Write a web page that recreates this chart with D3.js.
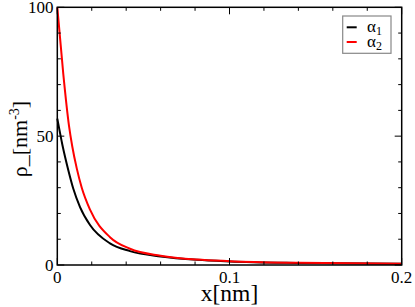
<!DOCTYPE html>
<html>
<head>
<meta charset="utf-8">
<script src="https://cdn.jsdelivr.net/npm/d3@7"></script>
<style>
  body { margin: 0; background: #fff; }
  svg text { font-family: "Liberation Serif", "Times New Roman", Times, "DejaVu Serif", serif; }
</style>
</head>
<body>
<div id="chart"></div>
<script>
// values
var xs1    = [0, 0.003, 0.0064, 0.0093, 0.0132, 0.019, 0.0306, 0.0422, 0.06, 0.081, 0.1, 0.14, 0.2];
var alpha1 = [56.8, 46.5, 36.8, 29.6, 22.5, 15.5, 8.4, 5.4, 3.3, 2.0, 1.4, 0.8, 0.45];
var xs2    = [0, 0.0035, 0.0068, 0.0087, 0.0113, 0.0142, 0.019, 0.0306, 0.0422, 0.06, 0.081, 0.1, 0.14, 0.2];
var alpha2 = [100, 74, 54, 46, 37.5, 30, 21.5, 10.8, 6.3, 3.6, 2.1, 1.5, 0.85, 0.45];
var seriesNames = ["α1", "α2"];
var xTicks = [0, 0.1, 0.2];
var yTicks = [0, 50, 100];

var width = 415, height = 307;
var marginleft = 57.3, marginright = 13.3, margintop = 7.3, marginbottom = 42;

var svg = d3.select("#chart").append("svg")
    .attr("width", width)
    .attr("height", height)
    .attr("font-family", "Liberation Serif, Times New Roman, serif");

var x = d3.scaleLinear().domain([0, 0.2]).range([marginleft, width - marginright]);
var y = d3.scaleLinear().domain([0, 100]).range([height - marginbottom, margintop]);

var series = [
  { name: seriesNames[0], color: "#000000", data: xs1.map(function(d, i){ return [d, alpha1[i]]; }) },
  { name: seriesNames[1], color: "#ff0000", data: xs2.map(function(d, i){ return [d, alpha2[i]]; }) }
];

var line = d3.line()
    .x(function(d){ return x(d[0]); })
    .y(function(d){ return y(d[1]); })
    .curve(d3.curveMonotoneX);

svg.append("g").selectAll("path")
    .data(series)
    .enter()
    .append("path")
      .attr("d", function(d){ return line(d.data); })
      .attr("fill", "none")
      .attr("stroke", function(d){ return d.color; })
      .attr("stroke-width", 2);

// ticks point inward, on all four sides
var xMinor = d3.range(0, 0.2001, 0.02);
var yMinor = d3.range(0, 100.01, 10);
function tick(g, a, b, c, d) {
  g.append("line").attr("x1", a).attr("y1", b).attr("x2", c).attr("y2", d)
    .attr("stroke", "#000").attr("stroke-width", 1);
}
var tg = svg.append("g");
xMinor.forEach(function(v){
  var major = xTicks.some(function(t){ return Math.abs(t - v) < 1e-6; });
  var len = major ? 7 : 3.5;
  tick(tg, x(v), y(0), x(v), y(0) - len);
  tick(tg, x(v), y(100), x(v), y(100) + len);
});
yMinor.forEach(function(v){
  var major = yTicks.indexOf(Math.round(v)) >= 0;
  var len = major ? 7 : 3.5;
  tick(tg, x(0), y(v), x(0) + len, y(v));
  tick(tg, x(0.2), y(v), x(0.2) - len, y(v));
});

svg.append("rect")
    .attr("x", x(0)).attr("y", y(100))
    .attr("width", x(0.2) - x(0)).attr("height", y(0) - y(100))
    .attr("fill", "none").attr("stroke", "#000").attr("stroke-width", 1.5);

// tick labels
svg.append("g").selectAll("text")
    .data(xTicks)
    .enter()
    .append("text")
      .attr("x", function(d){ return x(d); })
      .attr("y", 283)
      .attr("text-anchor", "middle")
      .attr("font-size", 17)
      .text(function(d){ return d === 0 ? "0" : d3.format(".1f")(d); });

svg.append("g").selectAll("text")
    .data(yTicks)
    .enter()
    .append("text")
      .attr("x", 53.5)
      .attr("y", function(d){ return y(d) + 6; })
      .attr("text-anchor", "end")
      .attr("font-size", 17)
      .text(function(d){ return d; });

// axis titles
svg.append("text")
    .attr("x", x(0.1))
    .attr("y", 301)
    .attr("text-anchor", "middle")
    .attr("font-size", 23.5)
    .text("x[nm]");

var yt = svg.append("text")
    .attr("transform", "translate(27," + 139 + ") rotate(-90)")
    .attr("text-anchor", "middle")
    .attr("font-size", 22);
yt.append("tspan").text("ρ_[nm");
yt.append("tspan").attr("font-size", 14).attr("dy", -8).text("-3");
yt.append("tspan").attr("dy", 8).text("]");

// legend
var lg = svg.append("g");
lg.append("rect")
    .attr("x", 342.7).attr("y", 16)
    .attr("width", 48.3).attr("height", 37.3)
    .attr("fill", "#fff").attr("stroke", "#888").attr("stroke-width", 1.2);
series.forEach(function(s, i){
  var yy = 27.3 + i * 14.7;
  lg.append("line")
    .attr("x1", 346.7).attr("x2", 356.7)
    .attr("y1", yy).attr("y2", yy)
    .attr("stroke", s.color).attr("stroke-width", 2);
  var t = lg.append("text")
    .attr("x", 367).attr("y", yy + 5)
    .attr("font-size", 17);
  t.append("tspan").text(s.name.charAt(0));
  t.append("tspan").attr("font-size", 12).attr("dy", 3).text(s.name.slice(1));
});
</script>
</body>
</html>
